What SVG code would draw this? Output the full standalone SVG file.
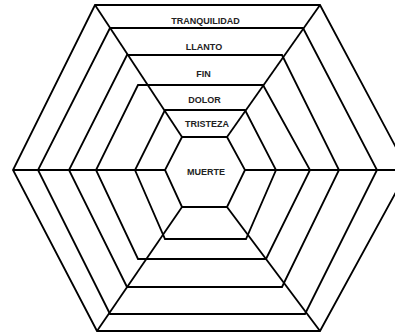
<svg xmlns="http://www.w3.org/2000/svg" width="395" height="333" viewBox="0 0 395 333">
<style>
.hex{fill:none;stroke:#000;stroke-width:1.8;stroke-linejoin:miter}
.spoke{stroke:#000;stroke-width:1.8;fill:none}
.lbl{font-family:"Liberation Sans",Arial,sans-serif;font-weight:bold;font-size:9px;fill:#222;text-anchor:middle}
</style>
<rect width="395" height="333" fill="#fff"/>
<g id="ring-tranquilidad">
<polygon class="hex" points="95,5 320,5 408,170 320,331 97,331 13,170"/>
<text class="lbl" x="205.5" y="24">TRANQUILIDAD</text>
</g>
<g id="ring-llanto">
<polygon class="hex" points="110,28 303,28 377,170 305,314 110,314 38,170"/>
<text class="lbl" x="204" y="50">LLANTO</text>
</g>
<g id="ring-fin">
<polygon class="hex" points="127,55 282,55 339,170 282,287 127,287 69,170"/>
<text class="lbl" x="203.5" y="77">FIN</text>
</g>
<g id="ring-dolor">
<polygon class="hex" points="138,85 263,85 310,170 266,259 138,259 96,170"/>
<text class="lbl" x="204.5" y="103">DOLOR</text>
</g>
<g id="ring-tristeza">
<polygon class="hex" points="165,110 245,110 276,170 246,239 165,239 135,170"/>
<text class="lbl" x="207" y="127">TRISTEZA</text>
</g>
<g id="ring-muerte">
<polygon class="hex" points="182,137 227,137 245,170 227,207 182,207 165,170"/>
<text class="lbl" x="206" y="175">MUERTE</text>
</g>
<g id="connectors">
<line class="spoke" x1="95" y1="5" x2="182" y2="137"/>
<line class="spoke" x1="320" y1="5" x2="227" y2="137"/>
<line class="spoke" x1="13" y1="170" x2="165" y2="170"/>
<line class="spoke" x1="245" y1="170" x2="408" y2="170"/>
<line class="spoke" x1="97" y1="331" x2="182" y2="207"/>
<line class="spoke" x1="320" y1="331" x2="227" y2="207"/>
</g>
</svg>
